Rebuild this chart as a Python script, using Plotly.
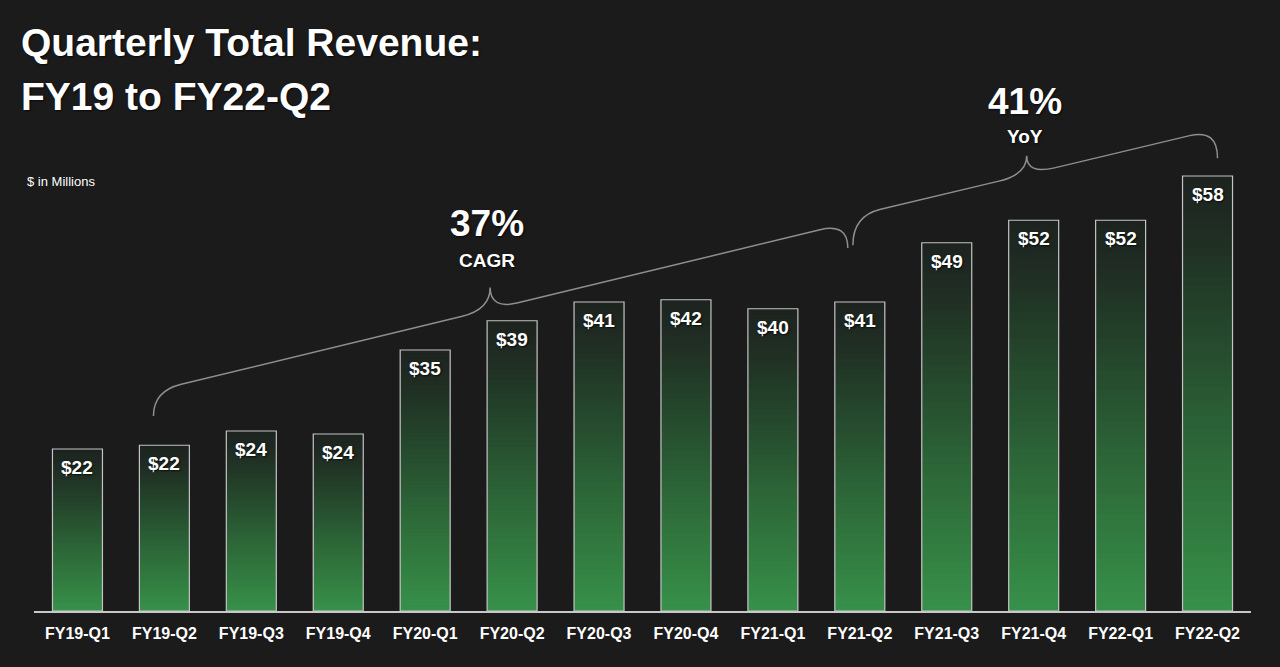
import numpy as np
import plotly.graph_objects as go

# ---- data ----
quarters = ["FY19-Q1", "FY19-Q2", "FY19-Q3", "FY19-Q4", "FY20-Q1", "FY20-Q2", "FY20-Q3",
            "FY20-Q4", "FY21-Q1", "FY21-Q2", "FY21-Q3", "FY21-Q4", "FY22-Q1", "FY22-Q2"]
revenue = [21.6, 22.1, 24.0, 23.6, 34.8, 38.7, 41.2, 41.5, 40.3, 41.2, 49.1, 52.1, 52.1, 58.0]
value_labels = ["$22", "$22", "$24", "$24", "$35", "$39", "$41", "$42", "$40", "$41",
                "$49", "$52", "$52", "$58"]

BG = "#1b1b1b"
FONT = "Liberation Sans"
BAR_W = 0.575
SHADOW = "1px 1px 2px rgba(0,0,0,0.7)"

x = np.arange(len(quarters))
vals = np.array(revenue)

fig = go.Figure()

# gradient: bottom bright green -> top near black-green (per bar)
stops = [(0.0, (55, 145, 74)), (0.15, (51, 128, 66)), (0.4, (44, 100, 55)),
         (0.6, (38, 76, 46)), (0.85, (32, 47, 36)), (1.0, (29, 34, 31))]


def grad_color(t):
    for (t0, c0), (t1, c1) in zip(stops[:-1], stops[1:]):
        if t <= t1:
            f = (t - t0) / (t1 - t0)
            c = [round(a + (b - a) * f) for a, b in zip(c0, c1)]
            return f"rgb({c[0]},{c[1]},{c[2]})"
    c = stops[-1][1]
    return f"rgb({c[0]},{c[1]},{c[2]})"


N = 60
for k in range(N):
    lo = k / N
    hi = min((k + 1.6) / N, 1.0)
    fig.add_trace(go.Bar(
        x=x, y=vals * (hi - lo), base=vals * lo, width=BAR_W,
        marker=dict(color=grad_color((k + 0.5) / N), line=dict(width=0)),
        hoverinfo="skip", showlegend=False,
    ))

# outline
fig.add_trace(go.Bar(
    x=x, y=vals, width=BAR_W,
    marker=dict(color="rgba(0,0,0,0)", line=dict(color="#c4c4c4", width=1.2)),
    hoverinfo="skip", showlegend=False,
))

# value labels inside bar tops
for xi, v, lab in zip(x, vals, value_labels):
    fig.add_annotation(x=xi, y=v, text=lab, showarrow=False, yshift=-18.5,
                       xanchor="center", yanchor="middle",
                       font=dict(family=FONT, size=19, color="white", weight="bold",
                                 shadow=SHADOW))


def brace_path(xl, xt, xr, yl, yr, drop, rise, dx):
    def spine(xx):
        return yl + (yr - yl) * (xx - xl) / (xr - xl)
    p = [
        f"M {xl},{yl - drop}",
        f"Q {xl},{yl} {xl + dx},{spine(xl + dx)}",
        f"L {xt - dx},{spine(xt - dx)}",
        f"Q {xt},{spine(xt)} {xt},{spine(xt) + rise}",
        f"Q {xt},{spine(xt)} {xt + dx},{spine(xt + dx)}",
        f"L {xr - dx},{spine(xr - dx)}",
        f"Q {xr},{yr} {xr},{yr - drop}",
    ]
    return " ".join(p)


brace_color = "#8e8e8e"
fig.add_shape(type="path", xref="x", yref="y",
              path=brace_path(0.874, 4.747, 8.862, 29.33, 51.73, 3.33, 2.93, 0.32),
              line=dict(color=brace_color, width=1.5))
fig.add_shape(type="path", xref="x", yref="y",
              path=brace_path(8.92, 10.92, 13.115, 52.67, 64.27, 3.9, 2.5, 0.32),
              line=dict(color=brace_color, width=1.5))

# bracket annotations
ann_font_big = dict(family=FONT, size=37, color="white", weight="bold", shadow=SHADOW)
ann_font_small = dict(family=FONT, size=19, color="white", weight="bold", shadow=SHADOW)
fig.add_annotation(x=4.707, y=51.67, text="37%", showarrow=False, font=ann_font_big)
fig.add_annotation(x=4.707, y=46.8, text="CAGR", showarrow=False, font=ann_font_small)
fig.add_annotation(x=10.9, y=68.0, text="41%", showarrow=False, font=ann_font_big)
fig.add_annotation(x=10.9, y=63.24, text="YoY", showarrow=False, font=ann_font_small)

# title lines and unit note
title_font = dict(family=FONT, size=39, color="white", weight="bold", shadow=SHADOW)
fig.add_annotation(xref="paper", yref="paper", x=-0.0127, y=(611 - 42) / 525,
                   xanchor="left", yanchor="middle", text="Quarterly Total Revenue:",
                   showarrow=False, font=title_font)
fig.add_annotation(xref="paper", yref="paper", x=-0.0127, y=(611 - 96) / 525,
                   xanchor="left", yanchor="middle", text="FY19 to FY22-Q2",
                   showarrow=False, font=title_font)
fig.add_annotation(xref="paper", yref="paper", x=-0.0078, y=(611 - 181) / 525,
                   xanchor="left", yanchor="middle", text="$ in Millions", showarrow=False,
                   font=dict(family=FONT, size=13, color="white"))

fig.update_layout(
    width=1280, height=667,
    paper_bgcolor=BG, plot_bgcolor=BG,
    barmode="overlay",
    margin=dict(l=33.5, r=28.5, t=86, b=56),
    xaxis=dict(range=[-0.5, 13.5], tickvals=x, ticktext=quarters, showgrid=False,
               zeroline=False, showline=True, linecolor="#c8c8c8", linewidth=1.5,
               ticks="", fixedrange=True, ticklabelstandoff=7,
               tickfont=dict(family=FONT, size=16, color="white", weight="bold")),
    yaxis=dict(range=[0, 70], showgrid=False, zeroline=False, showticklabels=False,
               showline=False, fixedrange=True),
    showlegend=False,
)

fig.write_html("out.html", post_script="document.body.style.margin='0';",
               config={"displayModeBar": False})
